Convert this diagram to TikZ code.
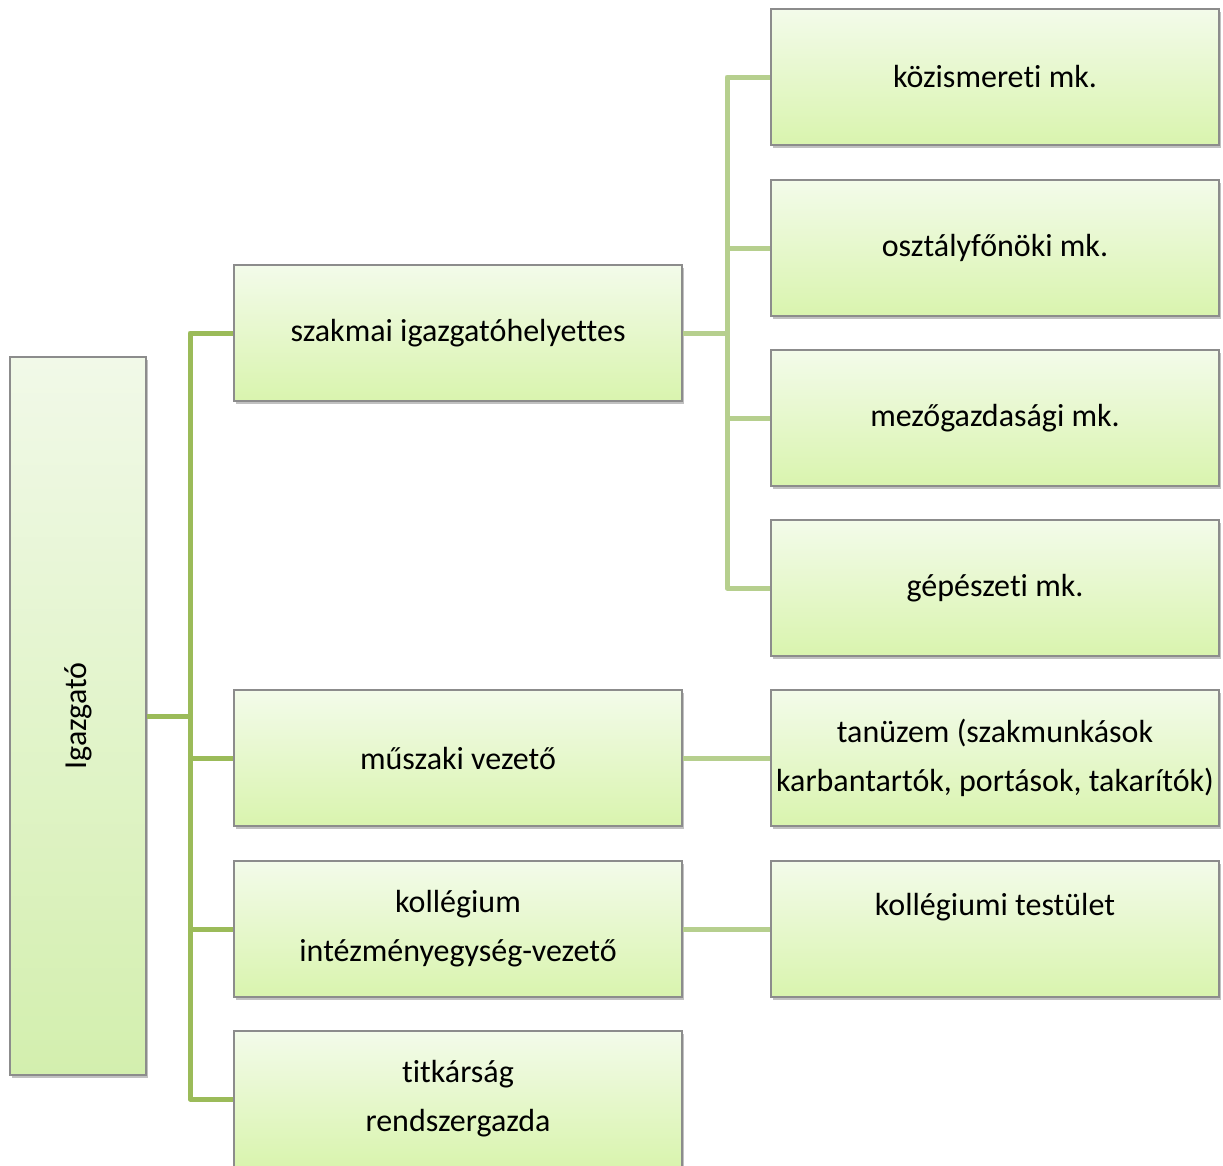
\documentclass[tikz,border=0pt]{standalone}
\usepackage{fontspec}
\setmainfont{Carlito}[RawFeature=-liga]
\usetikzlibrary{shadows}
\definecolor{boxtop}{HTML}{F3FBEA}
\definecolor{boxbot}{HTML}{D9F4AE}
\definecolor{igtop}{HTML}{F1F9E8}
\definecolor{igbot}{HTML}{D3EFAE}
\definecolor{edgegray}{HTML}{8C8C8C}
\definecolor{connA}{HTML}{9BBB59}
\definecolor{connB}{HTML}{B6CF8E}
\tikzset{
  orgbox/.style={draw=edgegray, line width=1.2pt, top color=boxtop, bottom color=boxbot,
    minimum width=448pt, minimum height=136pt, inner sep=0pt, align=center,
    font=\fontsize{32}{49}\selectfont,
    drop shadow={opacity=0.35, shadow xshift=1.5pt, shadow yshift=-2.5pt, fill=black!70}},
  rootbox/.style={draw=edgegray, line width=1.2pt, top color=igtop, bottom color=igbot,
    minimum width=136pt, minimum height=718pt, inner sep=0pt,
    drop shadow={opacity=0.35, shadow xshift=1.5pt, shadow yshift=-2.5pt, fill=black!70}},
  linkA/.style={draw=connA, line width=5pt, line join=round},
  linkB/.style={draw=connB, line width=5pt, line join=round}
}
\begin{document}
\begin{tikzpicture}[x=1pt,y=-1pt]
\useasboundingbox (0,0) rectangle (1223,1165);
% root
\node[rootbox] (ig) at (78,716) {};
\node[rotate=90, font=\fontsize{32}{49}\selectfont] (igt) at (78,716) {Igazgató};
% level 2
\node[orgbox] (sz) at (458,333) {szakmai igazgatóhelyettes};
\node[orgbox] (mu) at (458,758) {műszaki vezető};
\node[orgbox] (ko) at (458,929) {kollégium\\intézményegység-vezető};
\node[orgbox] (ti) at (458,1099) {titkárság\\rendszergazda};
% level 3
\node[orgbox] (kz) at (995,77) {közismereti mk.};
\node[orgbox] (os) at (995,248) {osztályfőnöki mk.};
\node[orgbox] (me) at (995,418) {mezőgazdasági mk.};
\node[orgbox] (ge) at (995,588) {gépészeti mk.};
\node[orgbox] (ta) at (995,758) {tanüzem (szakmunkások\\karbantartók, portások, takarítók)};
\node[orgbox] (kt) at (995,929) {kollégiumi testület\\\mbox{}};
% junctions
\coordinate (j1) at (190,716);
\coordinate (j2) at (727,333);
% level-1 connectors
\draw[linkA] (ig.east) -- (j1);
\draw[linkA] (sz.west) -- (j1 |- sz.west) -- (j1 |- ti.west) -- (ti.west);
\draw[linkA] (j1 |- mu.west) -- (mu.west);
\draw[linkA] (j1 |- ko.west) -- (ko.west);
% level-2 connectors
\draw[linkB] (sz.east) -- (j2);
\draw[linkB] (kz.west) -- (j2 |- kz.west) -- (j2 |- ge.west) -- (ge.west);
\draw[linkB] (j2 |- os.west) -- (os.west);
\draw[linkB] (j2 |- me.west) -- (me.west);
\draw[linkB] (mu.east) -- (ta.west);
\draw[linkB] (ko.east) -- (kt.west);
\end{tikzpicture}
\end{document}
